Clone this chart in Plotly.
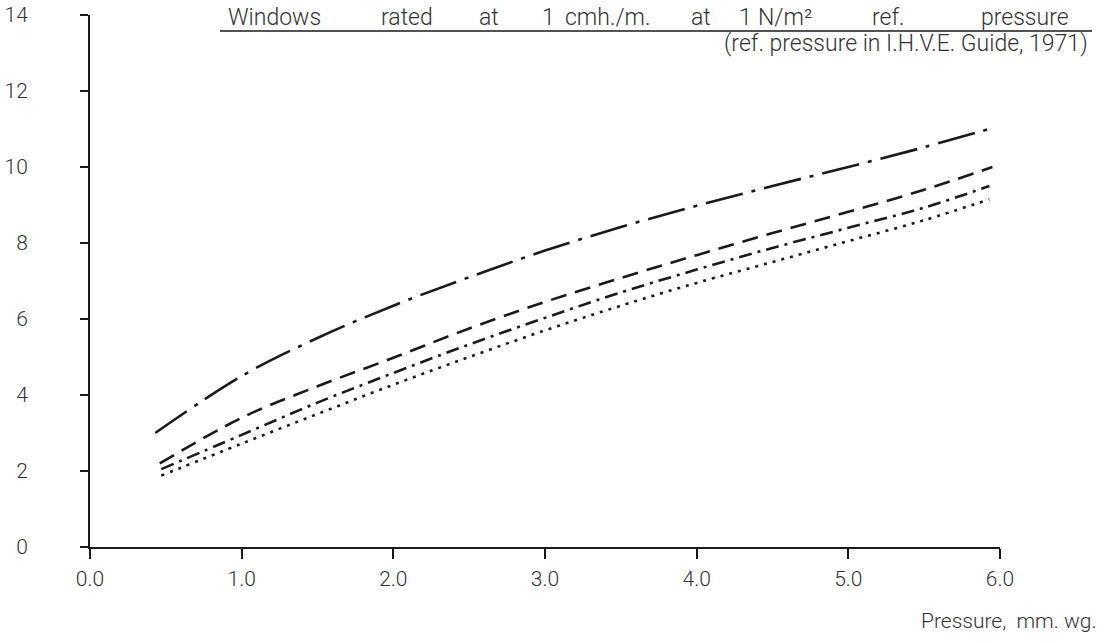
import plotly.graph_objects as go

# ---- data ----
x_top = [0.43, 1.0, 1.5, 2.0, 2.5, 3.0, 3.5, 4.0, 4.5, 5.0, 5.5, 5.97]
y_top = [3.0, 4.5, 5.5, 6.35, 7.1, 7.8, 8.42, 8.98, 9.5, 10.0, 10.52, 11.05]

x_dash = [0.46, 1.0, 1.5, 2.0, 2.5, 3.0, 3.5, 4.0, 4.5, 5.0, 5.5, 5.95]
y_dash = [2.2, 3.4, 4.23, 4.98, 5.75, 6.45, 7.08, 7.68, 8.26, 8.82, 9.4, 10.0]

x_dashdot = [0.47, 1.0, 1.5, 2.0, 2.5, 3.0, 3.5, 4.0, 4.5, 5.0, 5.5, 5.93]
y_dashdot = [2.05, 2.95, 3.8, 4.58, 5.33, 6.03, 6.7, 7.3, 7.87, 8.4, 8.93, 9.5]

x_dot = [0.47, 1.0, 1.5, 2.0, 2.5, 3.0, 3.5, 4.0, 4.5, 5.0, 5.5, 5.93]
y_dot = [1.88, 2.72, 3.5, 4.27, 5.0, 5.7, 6.35, 6.95, 7.5, 8.05, 8.6, 9.15]

x_tickvals = [0, 1, 2, 3, 4, 5, 6]
x_ticktext = ["0.0", "1.0", "2.0", "3.0", "4.0", "5.0", "6.0"]
y_tickvals = [0, 2, 4, 6, 8, 10, 12, 14]

title_words = ["Windows", "rated", "at", "1", "cmh./m.", "at", "1", "N/m²", "ref.", "pressure"]
title_word_px = [274, 407, 489, 548, 607, 701, 745, 785, 888, 1025]
subtitle = "(ref. pressure in I.H.V.E. Guide, 1971)"
x_label = "Pressure,  mm. wg."

# ---- layout geometry ----
W, H = 1106, 643
ML, MR, MT, MB = 90, 106, 15, 96
PW = W - ML - MR
PH = H - MT - MB


def px2paper_x(px):
    return (px - ML) / PW


def px2paper_y(py):
    return (H - MB - py) / PH


FONT = "Roboto"
INK = "#1a1a1a"
TXT = "#333333"

fig = go.Figure()
styles = [
    (x_top, y_top, "38px,9px,4px,9px"),
    (x_dash, y_dash, "16px,9px"),
    (x_dashdot, y_dashdot, "13px,6px,3px,6px"),
    (x_dot, y_dot, "3px,6px"),
]
for xs, ys, dash in styles:
    fig.add_trace(go.Scatter(
        x=xs, y=ys, mode="lines",
        line=dict(color=INK, width=2.6, dash=dash, shape="spline", smoothing=1.0),
        showlegend=False, hoverinfo="skip"))

fig.update_xaxes(
    range=[0, 6], tickvals=x_tickvals, ticktext=x_ticktext, automargin=False,
    showgrid=False, zeroline=False, showline=True, linecolor=INK, linewidth=2,
    ticks="outside", ticklen=10, tickwidth=2, tickcolor=INK,
    tickfont=dict(family=FONT, size=21, color=TXT, weight=300),
    ticklabelstandoff=2,
)
fig.update_yaxes(
    range=[0, 14], tickvals=y_tickvals, automargin=False,
    showgrid=False, zeroline=False, showline=True, linecolor=INK, linewidth=2,
    ticks="outside", ticklen=8, tickwidth=2, tickcolor=INK,
    tickfont=dict(family=FONT, size=21, color=TXT, weight=300),
    ticklabelstandoff=48,
)

annotations = []
for word, px in zip(title_words, title_word_px):
    annotations.append(dict(
        text=word, x=px2paper_x(px), y=px2paper_y(18), xref="paper", yref="paper",
        xanchor="center", yanchor="middle", showarrow=False,
        font=dict(family=FONT, size=23, color=TXT, weight=300)))
annotations.append(dict(
    text=subtitle, x=px2paper_x(1090), y=px2paper_y(43), xref="paper", yref="paper",
    xanchor="right", yanchor="middle", showarrow=False,
    font=dict(family=FONT, size=23, color=TXT, weight=300)))
annotations.append(dict(
    text=x_label, x=px2paper_x(1098), y=px2paper_y(621), xref="paper", yref="paper",
    xanchor="right", yanchor="middle", showarrow=False,
    font=dict(family=FONT, size=21, color=TXT, weight=300)))

fig.update_layout(
    width=W, height=H,
    margin=dict(l=ML, r=MR, t=MT, b=MB, pad=0),
    paper_bgcolor="white", plot_bgcolor="white",
    annotations=annotations,
    shapes=[dict(type="line", xref="paper", yref="paper",
                 x0=px2paper_x(220), x1=px2paper_x(1092),
                 y0=px2paper_y(31), y1=px2paper_y(31),
                 line=dict(color=INK, width=1.5))],
)

fig.write_html("out.html")
